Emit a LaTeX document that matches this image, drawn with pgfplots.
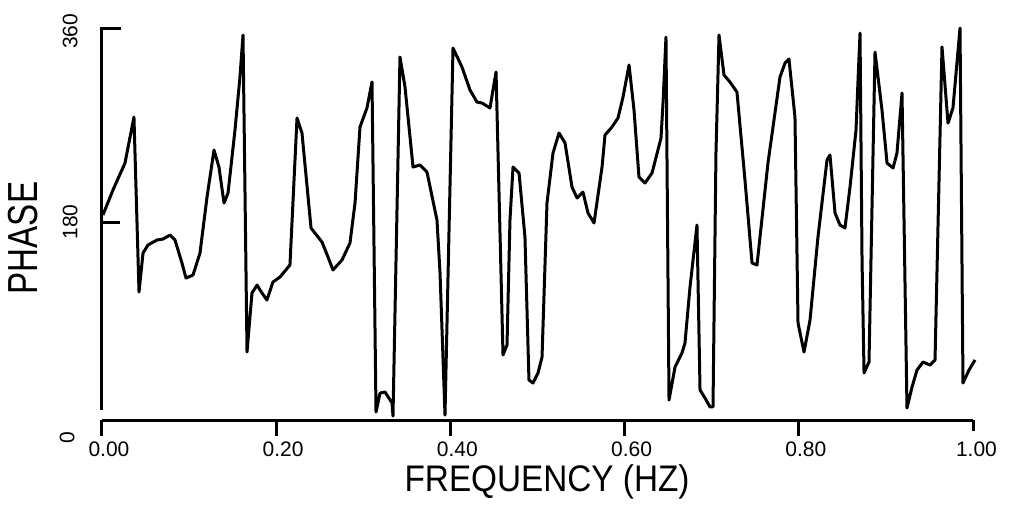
\documentclass[border=0pt]{standalone}
\usepackage{fontspec}
\setmainfont{Liberation Sans}
\usepackage{pgfplots}
\pgfplotsset{compat=1.18}
\begin{document}
\begin{tikzpicture}
\begin{axis}[
  width=435.5pt, height=194pt, scale only axis,
  xmin=0, xmax=1, ymin=0, ymax=360,
  axis line style={draw=none},
  xtick=\empty, ytick=\empty,
  clip=false,
]
\addplot[black, line width=1.5pt, line join=round, mark=none] coordinates {
(0.0011,186.5) (0.0126,209.7) (0.0264,234.7) (0.0367,277.4) (0.0425,115.0)
(0.0471,151.2) (0.0528,158.7) (0.0631,163.3) (0.0700,164.2) (0.0781,167.9)
(0.0838,163.3) (0.0918,142.0) (0.0964,128.0) (0.1045,130.8) (0.1125,151.2)
(0.1206,203.2) (0.1286,246.8) (0.1343,231.0) (0.1401,197.6) (0.1447,206.9)
(0.1527,265.4) (0.1584,314.5) (0.1619,353.5) (0.1665,59.4) (0.1722,114.1)
(0.1780,121.5) (0.1837,114.1) (0.1894,107.6) (0.1963,124.3) (0.2044,129.0)
(0.2158,140.1) (0.2239,276.5) (0.2296,262.6) (0.2400,174.4) (0.2526,161.4)
(0.2595,147.5) (0.2652,135.5) (0.2755,144.7) (0.2847,160.5) (0.2905,197.6)
(0.2962,268.1) (0.3042,285.8) (0.3100,309.9) (0.3146,3.7) (0.3192,21.3)
(0.3249,22.3) (0.3330,12.1) (0.3341,0.0) (0.3421,333.1) (0.3479,305.2)
(0.3571,231.0) (0.3651,232.9) (0.3731,226.4) (0.3846,181.8) (0.3881,132.7)
(0.3938,0.9) (0.4030,341.4) (0.4133,323.8) (0.4225,302.5) (0.4305,291.3)
(0.4363,290.4) (0.4455,285.8) (0.4489,302.5) (0.4524,319.2) (0.4604,56.6)
(0.4650,65.9) (0.4684,181.8) (0.4719,231.0) (0.4788,225.5) (0.4856,166.1)
(0.4902,33.4) (0.4948,30.6) (0.5006,39.9) (0.5052,54.7) (0.5109,197.6)
(0.5178,244.0) (0.5247,262.6) (0.5316,253.3) (0.5396,212.5) (0.5454,202.3)
(0.5522,207.8) (0.5580,188.3) (0.5649,179.1) (0.5741,231.0) (0.5775,260.7)
(0.5855,268.1) (0.5924,276.5) (0.5982,296.0) (0.6051,325.7) (0.6108,283.9)
(0.6165,221.7) (0.6234,216.2) (0.6315,225.5) (0.6418,257.9) (0.6441,290.4)
(0.6475,351.6) (0.6510,14.8) (0.6579,45.5) (0.6659,58.5) (0.6693,67.7)
(0.6751,119.7) (0.6831,177.2) (0.6866,24.1) (0.6923,16.7) (0.6981,8.4)
(0.7015,8.4) (0.7049,244.0) (0.7084,353.5) (0.7141,316.4) (0.7210,309.9)
(0.7290,300.6) (0.7382,219.0) (0.7463,142.0) (0.7520,140.1) (0.7646,234.7)
(0.7784,314.5) (0.7842,327.5) (0.7887,331.2) (0.7956,277.4) (0.7991,86.3)
(0.8060,59.4) (0.8129,89.1) (0.8220,166.1) (0.8324,237.5) (0.8358,242.2)
(0.8416,188.3) (0.8473,177.2) (0.8530,174.4) (0.8588,212.5) (0.8657,265.4)
(0.8680,311.7) (0.8703,355.3) (0.8726,144.7) (0.8749,39.9) (0.8806,50.1)
(0.8875,337.7) (0.8955,283.9) (0.9013,234.7) (0.9082,230.1) (0.9127,244.0)
(0.9185,299.7) (0.9242,7.4) (0.9300,26.9) (0.9357,42.7) (0.9426,50.1)
(0.9506,47.3) (0.9564,52.0) (0.9644,342.4) (0.9713,271.8) (0.9770,285.8)
(0.9851,360.0) (0.9885,30.6) (0.9954,42.7) (1.0023,52.0)
};
% y axis
\draw[line width=1.5pt] (axis cs:0.022,360) -- (axis cs:0,360) -- (axis cs:0,5.6);
\draw[line width=1.5pt] (axis cs:0,180) -- (axis cs:0.021,180);
% x axis
\draw[line width=1.5pt] (axis cs:0,-3.7) -- (axis cs:1,-3.7);
\draw[line width=1.5pt] (axis cs:0,-3.7) -- (axis cs:0,-19);
\draw[line width=1.5pt] (axis cs:0.2,-3.7) -- (axis cs:0.2,-19);
\draw[line width=1.5pt] (axis cs:0.4,-3.7) -- (axis cs:0.4,-19);
\draw[line width=1.5pt] (axis cs:0.6,-3.7) -- (axis cs:0.6,-19);
\draw[line width=1.5pt] (axis cs:0.8,-3.7) -- (axis cs:0.8,-19);
\draw[line width=1.5pt] (axis cs:1,-3.7) -- (axis cs:1,-14);
% tick labels
\begin{scope}[every node/.style={font=\fontsize{10.5}{12}\selectfont, inner sep=0pt}]
\node at (axis cs:0.008,-30.5) {0.00};
\node at (axis cs:0.208,-30.5) {0.20};
\node at (axis cs:0.408,-30.5) {0.40};
\node at (axis cs:0.608,-30.5) {0.60};
\node at (axis cs:0.808,-30.5) {0.80};
\node at (axis cs:1.004,-30.5) {1.00};
\node[rotate=90] at (axis cs:-0.0367,357) {360};
\node[rotate=90] at (axis cs:-0.0367,180) {180};
\node[rotate=90] at (axis cs:-0.040,-20.4) {0};
\end{scope}
\node[rotate=90, inner sep=0pt, font=\fontsize{21}{24}\selectfont] at (axis cs:-0.0907,165.1) {\scalebox{0.79}[1]{PHASE}};
\node[inner sep=0pt, font=\fontsize{18.5}{21}\selectfont] at (axis cs:0.511,-61) {\scalebox{0.9}[1]{FREQUENCY (HZ)}};
\coordinate (bbsw) at (axis cs:-0.1171,-85.4);
\coordinate (bbne) at (axis cs:1.0551,386.0);
\end{axis}
\pgfresetboundingbox
\path (bbsw) rectangle (bbne);
\end{tikzpicture}
\end{document}
